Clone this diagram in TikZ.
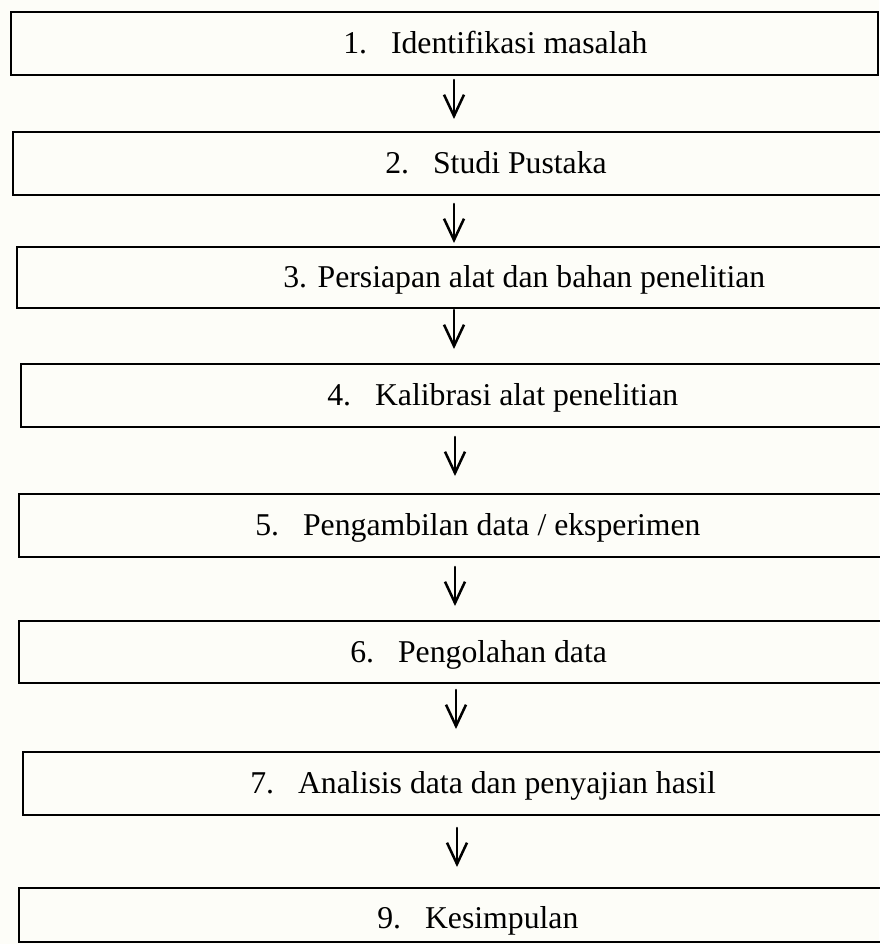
\documentclass[tikz,border=0pt]{standalone}
\usepackage{fontspec}
\setmainfont{Liberation Serif}
\usetikzlibrary{arrows.meta}
\definecolor{paper}{RGB}{253,253,248}
\newcommand{\tabgap}{\hspace{18pt}}
\begin{document}
\begin{tikzpicture}[x=0.75pt,y=-0.75pt,
  stepbox/.style={draw=black, line width=1.6pt, anchor=north west, inner sep=0pt, outer sep=0pt},
  steptext/.style={anchor=base west, inner sep=0pt, font=\fontsize{23.8pt}{28pt}\selectfont},
  flowarrow/.style={line width=1.9pt, line cap=round, -{Straight Barb[length=16pt,width=15pt,line width=1.9pt]}}]
\useasboundingbox (0,0) rectangle (879,944);
\fill[paper] (0,0) rectangle (879,944);
% boxes
\node[stepbox, minimum width=650.25pt, minimum height=47.25pt] (b1) at (11,12) {};
\node[stepbox, minimum width=657.75pt, minimum height=47.25pt] (b2) at (13,132) {};
\node[stepbox, minimum width=654.75pt, minimum height=45.75pt] (b3) at (17,247) {};
\node[stepbox, minimum width=651.75pt, minimum height=47.25pt] (b4) at (21,364) {};
\node[stepbox, minimum width=653.25pt, minimum height=47.25pt] (b5) at (19,494) {};
\node[stepbox, minimum width=653.25pt, minimum height=46.5pt] (b6) at (19,621) {};
\node[stepbox, minimum width=650.25pt, minimum height=47.25pt] (b7) at (23,752) {};
\node[stepbox, minimum width=653.25pt, minimum height=40.5pt] (b9) at (19,888) {};
% texts
\node[steptext] (t1) at (343,53.5) {1.\tabgap Identifikasi masalah};
\node[steptext] (t2) at (385,173.5) {2.\tabgap Studi Pustaka};
\node[steptext] (t3) at (283,287.5) {3. Persiapan alat dan bahan penelitian};
\node[steptext] (t4) at (327,405.5) {4.\tabgap Kalibrasi alat penelitian};
\node[steptext] (t5) at (255,535.5) {5.\tabgap Pengambilan data / eksperimen};
\node[steptext] (t6) at (350,662) {6.\tabgap Pengolahan data};
\node[steptext] (t7) at (250,793.5) {7.\tabgap Analisis data dan penyajian hasil};
\node[steptext] (t9) at (377,928) {9.\tabgap Kesimpulan};
% arrows
\coordinate (a1s) at (454,80);  \coordinate (a1e) at (454,119);
\coordinate (a2s) at (454,204); \coordinate (a2e) at (454,243);
\coordinate (a3s) at (454,310); \coordinate (a3e) at (454,349);
\coordinate (a4s) at (455,437); \coordinate (a4e) at (455,476);
\coordinate (a5s) at (455,567); \coordinate (a5e) at (455,606);
\coordinate (a6s) at (456,690); \coordinate (a6e) at (456,729);
\coordinate (a7s) at (457,828); \coordinate (a7e) at (457,867);
\draw[flowarrow] (a1s) -- (a1e);
\draw[flowarrow] (a2s) -- (a2e);
\draw[flowarrow] (a3s) -- (a3e);
\draw[flowarrow] (a4s) -- (a4e);
\draw[flowarrow] (a5s) -- (a5e);
\draw[flowarrow] (a6s) -- (a6e);
\draw[flowarrow] (a7s) -- (a7e);
\end{tikzpicture}
\end{document}
